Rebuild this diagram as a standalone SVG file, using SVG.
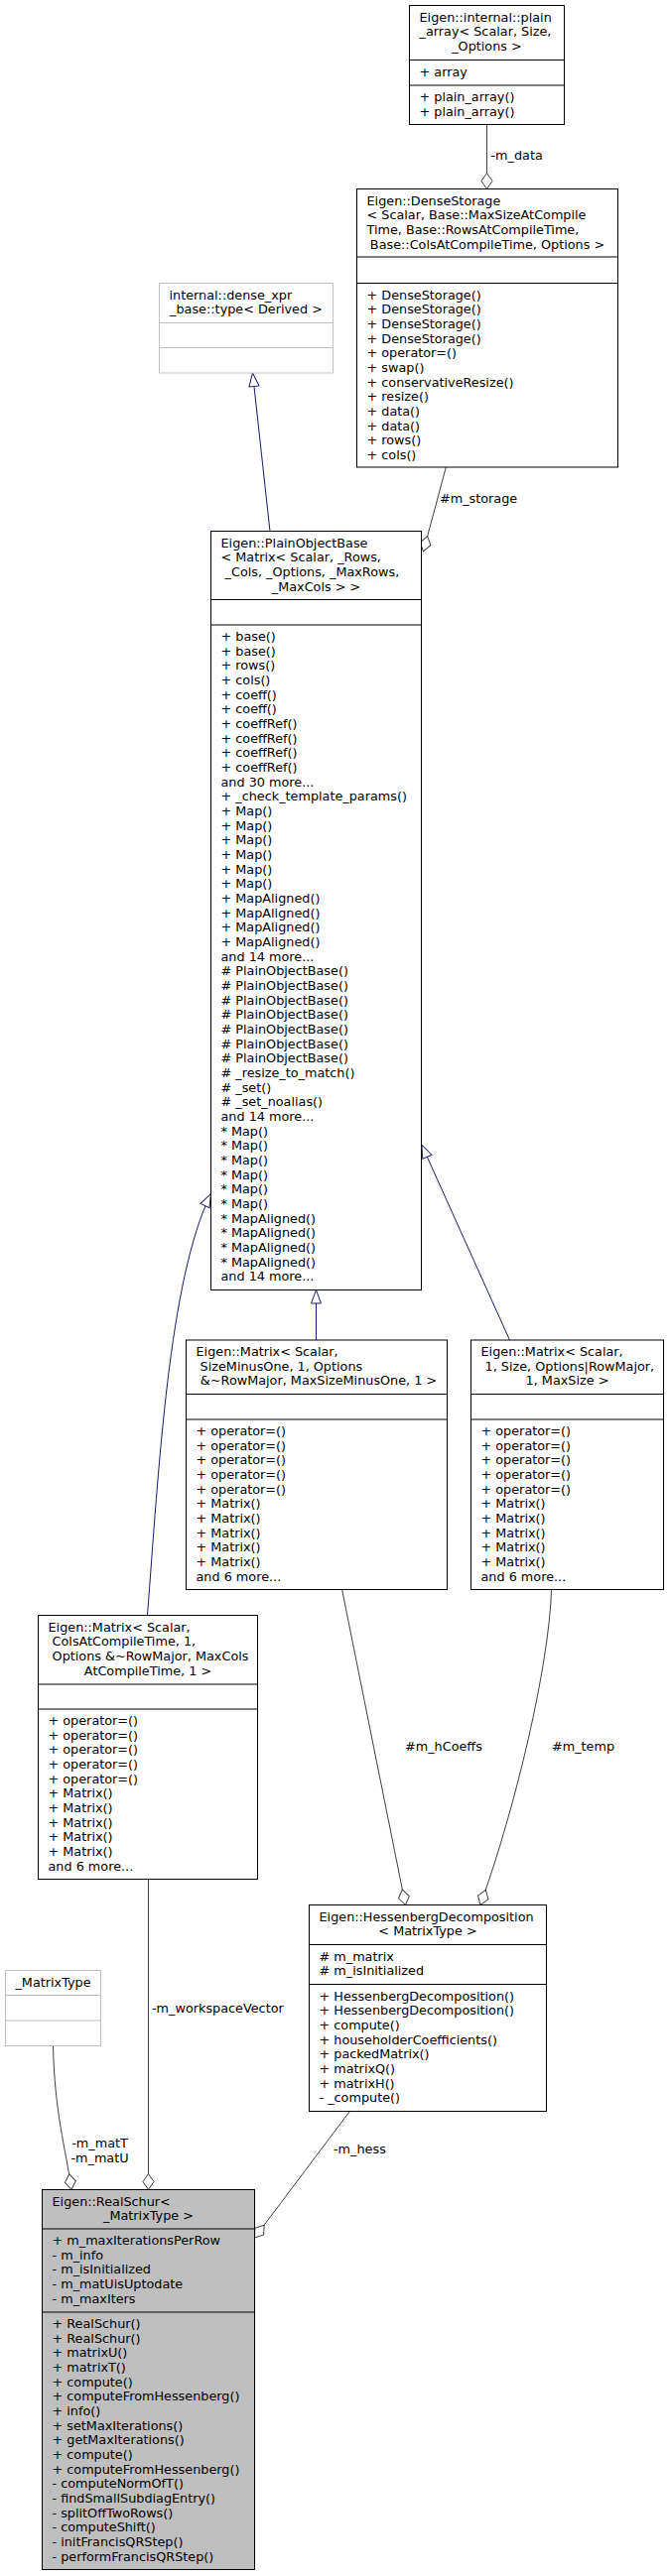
<svg xmlns="http://www.w3.org/2000/svg" width="673" height="2597" viewBox="0 0 673 2597">
<style>
.t{font-family:"DejaVu Sans","Liberation Sans",sans-serif;font-size:12.8px;fill:#000}
.c{text-anchor:middle}
.box{fill:#fff;stroke:#000;stroke-width:1}
.gbox{fill:#fff;stroke:#bfbfbf;stroke-width:1}
.rs{fill:#bfbfbf;stroke:#000;stroke-width:1}
.sep{stroke:#000;stroke-width:1}
.gsep{stroke:#bfbfbf;stroke-width:1}
.inh{fill:none;stroke:#191970;stroke-width:1;marker-end:url(#tri)}
.agg{fill:none;stroke:#404040;stroke-width:1;marker-end:url(#dia)}
</style>
<defs>
<marker id="tri" markerUnits="userSpaceOnUse" markerWidth="16" markerHeight="12" viewBox="-1 -1 16 12" refX="13.5" refY="5" orient="auto"><path d="M0,0 L13.5,5 L0,10 Z" fill="#fff" stroke="#191970"/></marker>
<marker id="dia" markerUnits="userSpaceOnUse" markerWidth="18" markerHeight="13" viewBox="-1 -1 18 13" refX="16" refY="5.5" orient="auto"><path d="M0,5.5 L8,0 L16,5.5 L8,11 Z" fill="#fff" stroke="#404040"/></marker>
</defs>
<rect width="673" height="2597" fill="#fff"/>

<g id="connectors">
<path class="inh" d="M272,535.5 L254.5,376"/>
<path class="inh" d="M318.5,1351 L318.5,1300.5"/>
<path class="inh" d="M513.5,1351 L424.8,1154"/>
<path class="inh" d="M148.5,1628.5 C160,1480 170,1290 212.5,1203.5"/>
<path class="agg" d="M490.5,125.5 L490.5,190.5"/>
<path class="agg" d="M449.3,471 L426.5,556"/>
<path class="agg" d="M344.6,1602.5 L408.5,1920.5"/>
<path class="agg" d="M555.6,1602.5 C553,1680 520,1820 484,1920.5"/>
<path class="agg" d="M149.5,1894.5 L149.5,2207.5"/>
<path class="agg" d="M53.5,2062.5 C55,2130 66,2165 72,2207.5"/>
<path class="agg" d="M352.4,2128.5 L256.5,2256"/>
<text class="t" x="494.5" y="161">-m_data</text>
<text class="t" x="443" y="507">#m_storage</text>
<text class="t" x="408" y="1765">#m_hCoeffs</text>
<text class="t" x="556" y="1765">#m_temp</text>
<text class="t" x="153" y="2028.5">-m_workspaceVector</text>
<text class="t c" x="100.5" y="2164.5">-m_matT</text>
<text class="t c" x="100.5" y="2179.5">-m_matU</text>
<text class="t" x="336" y="2171">-m_hess</text>
</g>

<g id="plain_array">
<rect class="box" x="412.5" y="5.5" width="156" height="120"/>
<line class="sep" x1="412.5" y1="60.5" x2="568.5" y2="60.5"/>
<line class="sep" x1="412.5" y1="86" x2="568.5" y2="86"/>
<text class="t" x="422.5" y="21.5">Eigen::internal::plain</text>
<text class="t" x="422.5" y="36.2">_array&lt; Scalar, Size,</text>
<text class="t c" x="490.5" y="50.8">_Options &gt;</text>
<text class="t" x="422.5" y="76.5">+ array</text>
<text class="t" x="422.5" y="102">+ plain_array()</text>
<text class="t" x="422.5" y="116.7">+ plain_array()</text>
</g>

<g id="DenseStorage">
<rect class="box" x="359.5" y="190.5" width="263" height="280.5"/>
<line class="sep" x1="359.5" y1="259" x2="622.5" y2="259"/>
<line class="sep" x1="359.5" y1="285.5" x2="622.5" y2="285.5"/>
<text class="t" x="369.5" y="206.5">Eigen::DenseStorage</text>
<text class="t" x="369.5" y="221.2">&lt; Scalar, Base::MaxSizeAtCompile</text>
<text class="t" x="369.5" y="235.8">Time, Base::RowsAtCompileTime,</text>
<text class="t c" x="491" y="250.5">Base::ColsAtCompileTime, Options &gt;</text>
<text class="t" y="301.5"><tspan x="369.5">+ DenseStorage()</tspan><tspan x="369.5" dy="14.67">+ DenseStorage()</tspan><tspan x="369.5" dy="14.67">+ DenseStorage()</tspan><tspan x="369.5" dy="14.67">+ DenseStorage()</tspan><tspan x="369.5" dy="14.67">+ operator=()</tspan><tspan x="369.5" dy="14.67">+ swap()</tspan><tspan x="369.5" dy="14.67">+ conservativeResize()</tspan><tspan x="369.5" dy="14.67">+ resize()</tspan><tspan x="369.5" dy="14.67">+ data()</tspan><tspan x="369.5" dy="14.67">+ data()</tspan><tspan x="369.5" dy="14.67">+ rows()</tspan><tspan x="369.5" dy="14.67">+ cols()</tspan></text>
</g>

<g id="dense_xpr_base">
<rect class="gbox" x="160.5" y="285.5" width="175" height="90.5"/>
<line class="gsep" x1="160.5" y1="325.5" x2="335.5" y2="325.5"/>
<line class="gsep" x1="160.5" y1="350.5" x2="335.5" y2="350.5"/>
<text class="t" x="170.5" y="301.5">internal::dense_xpr</text>
<text class="t c" x="248" y="316.2">_base::type&lt; Derived &gt;</text>
</g>

<g id="PlainObjectBase">
<rect class="box" x="212.5" y="535.5" width="212" height="765"/>
<line class="sep" x1="212.5" y1="604.5" x2="424.5" y2="604.5"/>
<line class="sep" x1="212.5" y1="630" x2="424.5" y2="630"/>
<text class="t" x="222.5" y="551.5">Eigen::PlainObjectBase</text>
<text class="t" x="222.5" y="566.2">&lt; Matrix&lt; Scalar, _Rows,</text>
<text class="t" x="222.5" y="580.8">&#160;_Cols, _Options, _MaxRows,</text>
<text class="t c" x="318.5" y="595.5">_MaxCols &gt; &gt;</text>
<text class="t" y="646"><tspan x="222.5">+ base()</tspan><tspan x="222.5" dy="14.67">+ base()</tspan><tspan x="222.5" dy="14.67">+ rows()</tspan><tspan x="222.5" dy="14.67">+ cols()</tspan><tspan x="222.5" dy="14.67">+ coeff()</tspan><tspan x="222.5" dy="14.67">+ coeff()</tspan><tspan x="222.5" dy="14.67">+ coeffRef()</tspan><tspan x="222.5" dy="14.67">+ coeffRef()</tspan><tspan x="222.5" dy="14.67">+ coeffRef()</tspan><tspan x="222.5" dy="14.67">+ coeffRef()</tspan><tspan x="222.5" dy="14.67">and 30 more...</tspan><tspan x="222.5" dy="14.67">+ _check_template_params()</tspan><tspan x="222.5" dy="14.67">+ Map()</tspan><tspan x="222.5" dy="14.67">+ Map()</tspan><tspan x="222.5" dy="14.67">+ Map()</tspan><tspan x="222.5" dy="14.67">+ Map()</tspan><tspan x="222.5" dy="14.67">+ Map()</tspan><tspan x="222.5" dy="14.67">+ Map()</tspan><tspan x="222.5" dy="14.67">+ MapAligned()</tspan><tspan x="222.5" dy="14.67">+ MapAligned()</tspan><tspan x="222.5" dy="14.67">+ MapAligned()</tspan><tspan x="222.5" dy="14.67">+ MapAligned()</tspan><tspan x="222.5" dy="14.67">and 14 more...</tspan><tspan x="222.5" dy="14.67"># PlainObjectBase()</tspan><tspan x="222.5" dy="14.67"># PlainObjectBase()</tspan><tspan x="222.5" dy="14.67"># PlainObjectBase()</tspan><tspan x="222.5" dy="14.67"># PlainObjectBase()</tspan><tspan x="222.5" dy="14.67"># PlainObjectBase()</tspan><tspan x="222.5" dy="14.67"># PlainObjectBase()</tspan><tspan x="222.5" dy="14.67"># PlainObjectBase()</tspan><tspan x="222.5" dy="14.67"># _resize_to_match()</tspan><tspan x="222.5" dy="14.67"># _set()</tspan><tspan x="222.5" dy="14.67"># _set_noalias()</tspan><tspan x="222.5" dy="14.67">and 14 more...</tspan><tspan x="222.5" dy="14.67">* Map()</tspan><tspan x="222.5" dy="14.67">* Map()</tspan><tspan x="222.5" dy="14.67">* Map()</tspan><tspan x="222.5" dy="14.67">* Map()</tspan><tspan x="222.5" dy="14.67">* Map()</tspan><tspan x="222.5" dy="14.67">* Map()</tspan><tspan x="222.5" dy="14.67">* MapAligned()</tspan><tspan x="222.5" dy="14.67">* MapAligned()</tspan><tspan x="222.5" dy="14.67">* MapAligned()</tspan><tspan x="222.5" dy="14.67">* MapAligned()</tspan><tspan x="222.5" dy="14.67">and 14 more...</tspan></text>
</g>

<g id="Matrix_SizeMinusOne">
<rect class="box" x="187.5" y="1351" width="263" height="251.5"/>
<line class="sep" x1="187.5" y1="1405.5" x2="450.5" y2="1405.5"/>
<line class="sep" x1="187.5" y1="1431" x2="450.5" y2="1431"/>
<text class="t" x="197.5" y="1367">Eigen::Matrix&lt; Scalar,</text>
<text class="t" x="197.5" y="1381.7">&#160;SizeMinusOne, 1, Options</text>
<text class="t c" x="319" y="1396.3">&#160;&amp;~RowMajor, MaxSizeMinusOne, 1 &gt;</text>
<text class="t" y="1447"><tspan x="197.5">+ operator=()</tspan><tspan x="197.5" dy="14.67">+ operator=()</tspan><tspan x="197.5" dy="14.67">+ operator=()</tspan><tspan x="197.5" dy="14.67">+ operator=()</tspan><tspan x="197.5" dy="14.67">+ operator=()</tspan><tspan x="197.5" dy="14.67">+ Matrix()</tspan><tspan x="197.5" dy="14.67">+ Matrix()</tspan><tspan x="197.5" dy="14.67">+ Matrix()</tspan><tspan x="197.5" dy="14.67">+ Matrix()</tspan><tspan x="197.5" dy="14.67">+ Matrix()</tspan><tspan x="197.5" dy="14.67">and 6 more...</tspan></text>
</g>

<g id="Matrix_RowMajor">
<rect class="box" x="474.5" y="1351" width="194" height="251.5"/>
<line class="sep" x1="474.5" y1="1405.5" x2="668.5" y2="1405.5"/>
<line class="sep" x1="474.5" y1="1431" x2="668.5" y2="1431"/>
<text class="t" x="484.5" y="1367">Eigen::Matrix&lt; Scalar,</text>
<text class="t" x="484.5" y="1381.7">&#160;1, Size, Options|RowMajor,</text>
<text class="t c" x="571.5" y="1396.3">1, MaxSize &gt;</text>
<text class="t" y="1447"><tspan x="484.5">+ operator=()</tspan><tspan x="484.5" dy="14.67">+ operator=()</tspan><tspan x="484.5" dy="14.67">+ operator=()</tspan><tspan x="484.5" dy="14.67">+ operator=()</tspan><tspan x="484.5" dy="14.67">+ operator=()</tspan><tspan x="484.5" dy="14.67">+ Matrix()</tspan><tspan x="484.5" dy="14.67">+ Matrix()</tspan><tspan x="484.5" dy="14.67">+ Matrix()</tspan><tspan x="484.5" dy="14.67">+ Matrix()</tspan><tspan x="484.5" dy="14.67">+ Matrix()</tspan><tspan x="484.5" dy="14.67">and 6 more...</tspan></text>
</g>

<g id="Matrix_ColsAtCompileTime">
<rect class="box" x="38.5" y="1628.5" width="221" height="266"/>
<line class="sep" x1="38.5" y1="1698" x2="259.5" y2="1698"/>
<line class="sep" x1="38.5" y1="1723" x2="259.5" y2="1723"/>
<text class="t" x="48.5" y="1644.5">Eigen::Matrix&lt; Scalar,</text>
<text class="t" x="48.5" y="1659.2">&#160;ColsAtCompileTime, 1,</text>
<text class="t" x="48.5" y="1673.8">&#160;Options &amp;~RowMajor, MaxCols</text>
<text class="t c" x="149" y="1688.5">AtCompileTime, 1 &gt;</text>
<text class="t" y="1739"><tspan x="48.5">+ operator=()</tspan><tspan x="48.5" dy="14.67">+ operator=()</tspan><tspan x="48.5" dy="14.67">+ operator=()</tspan><tspan x="48.5" dy="14.67">+ operator=()</tspan><tspan x="48.5" dy="14.67">+ operator=()</tspan><tspan x="48.5" dy="14.67">+ Matrix()</tspan><tspan x="48.5" dy="14.67">+ Matrix()</tspan><tspan x="48.5" dy="14.67">+ Matrix()</tspan><tspan x="48.5" dy="14.67">+ Matrix()</tspan><tspan x="48.5" dy="14.67">+ Matrix()</tspan><tspan x="48.5" dy="14.67">and 6 more...</tspan></text>
</g>

<g id="HessenbergDecomposition">
<rect class="box" x="311.5" y="1920.5" width="239" height="208"/>
<line class="sep" x1="311.5" y1="1960.5" x2="550.5" y2="1960.5"/>
<line class="sep" x1="311.5" y1="2000.5" x2="550.5" y2="2000.5"/>
<text class="t" x="321.5" y="1936.5">Eigen::HessenbergDecomposition</text>
<text class="t c" x="431" y="1951.2">&lt; MatrixType &gt;</text>
<text class="t" x="321.5" y="1976.5"># m_matrix</text>
<text class="t" x="321.5" y="1991.2"># m_isInitialized</text>
<text class="t" y="2016.5"><tspan x="321.5">+ HessenbergDecomposition()</tspan><tspan x="321.5" dy="14.67">+ HessenbergDecomposition()</tspan><tspan x="321.5" dy="14.67">+ compute()</tspan><tspan x="321.5" dy="14.67">+ householderCoefficients()</tspan><tspan x="321.5" dy="14.67">+ packedMatrix()</tspan><tspan x="321.5" dy="14.67">+ matrixQ()</tspan><tspan x="321.5" dy="14.67">+ matrixH()</tspan><tspan x="321.5" dy="14.67">- _compute()</tspan></text>
</g>

<g id="MatrixType">
<rect class="gbox" x="5.5" y="1986.5" width="96" height="76"/>
<line class="gsep" x1="5.5" y1="2011.5" x2="101.5" y2="2011.5"/>
<line class="gsep" x1="5.5" y1="2037" x2="101.5" y2="2037"/>
<text class="t c" x="53.5" y="2002.5">_MatrixType</text>
</g>

<g id="RealSchur">
<rect class="rs" x="42.5" y="2207.5" width="214" height="383"/>
<line class="sep" x1="42.5" y1="2247" x2="256.5" y2="2247"/>
<line class="sep" x1="42.5" y1="2331" x2="256.5" y2="2331"/>
<text class="t" x="52.5" y="2223.5">Eigen::RealSchur&lt;</text>
<text class="t c" x="149.5" y="2238.2">_MatrixType &gt;</text>
<text class="t" y="2263"><tspan x="52.5">+ m_maxIterationsPerRow</tspan><tspan x="52.5" dy="14.67">- m_info</tspan><tspan x="52.5" dy="14.67">- m_isInitialized</tspan><tspan x="52.5" dy="14.67">- m_matUisUptodate</tspan><tspan x="52.5" dy="14.67">- m_maxIters</tspan></text>
<text class="t" y="2347"><tspan x="52.5">+ RealSchur()</tspan><tspan x="52.5" dy="14.67">+ RealSchur()</tspan><tspan x="52.5" dy="14.67">+ matrixU()</tspan><tspan x="52.5" dy="14.67">+ matrixT()</tspan><tspan x="52.5" dy="14.67">+ compute()</tspan><tspan x="52.5" dy="14.67">+ computeFromHessenberg()</tspan><tspan x="52.5" dy="14.67">+ info()</tspan><tspan x="52.5" dy="14.67">+ setMaxIterations()</tspan><tspan x="52.5" dy="14.67">+ getMaxIterations()</tspan><tspan x="52.5" dy="14.67">+ compute()</tspan><tspan x="52.5" dy="14.67">+ computeFromHessenberg()</tspan><tspan x="52.5" dy="14.67">- computeNormOfT()</tspan><tspan x="52.5" dy="14.67">- findSmallSubdiagEntry()</tspan><tspan x="52.5" dy="14.67">- splitOffTwoRows()</tspan><tspan x="52.5" dy="14.67">- computeShift()</tspan><tspan x="52.5" dy="14.67">- initFrancisQRStep()</tspan><tspan x="52.5" dy="14.67">- performFrancisQRStep()</tspan></text>
</g>
</svg>
